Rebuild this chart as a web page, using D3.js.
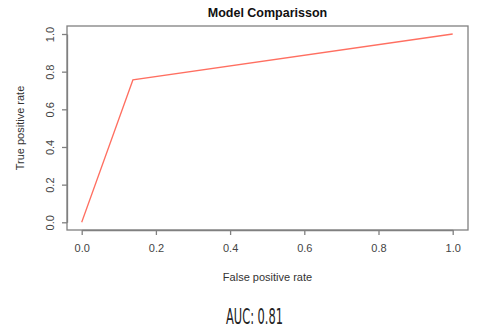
<!DOCTYPE html>
<html>
<head>
<meta charset="utf-8">
<script src="https://cdn.jsdelivr.net/npm/d3@7"></script>
<style>
  body { margin: 0; background: #fff; }
  svg { display: block; font-family: "Liberation Sans", Arial, sans-serif; }
</style>
</head>
<body>
<svg id="chart" width="477" height="331"></svg>
<script>
// ROC curve points
var fpr = [0, 0.138, 1];
var tpr = [0, 0.756, 1];
var tickValues = [0, 0.2, 0.4, 0.6, 0.8, 1.0];
var title = "Model Comparisson";
var aucLabel = "AUC: 0.81";

var svg = d3.select("#chart");

// plot box in pixels
var box = {left: 67, top: 26, right: 468, bottom: 230};

var x = d3.scaleLinear().domain([0, 1]).range([81.7, 452.7]);
var y = d3.scaleLinear().domain([0, 1]).range([222.3, 34]);

svg.append("rect")
    .attr("x", box.left).attr("y", box.top)
    .attr("width", box.right - box.left).attr("height", box.bottom - box.top)
    .attr("fill", "none").attr("stroke", "#808080").attr("stroke-width", 1.3);

var xAxis = svg.append("g")
    .attr("transform", "translate(0," + box.bottom + ")")
    .call(d3.axisBottom(x).tickValues(tickValues).tickFormat(d3.format(".1f")).tickSizeInner(5).tickSizeOuter(0).tickPadding(9));
xAxis.select(".domain").attr("stroke", "#808080").attr("stroke-width", 1.3);
xAxis.selectAll(".tick line").attr("stroke", "#808080").attr("stroke-width", 1.3);
xAxis.selectAll(".tick text").attr("fill", "#444").attr("font-size", 11);

var yAxis = svg.append("g")
    .attr("transform", "translate(" + box.left + ",0)")
    .call(d3.axisLeft(y).tickValues(tickValues).tickFormat(d3.format(".1f")).tickSizeInner(5).tickSizeOuter(0).tickPadding(0));
yAxis.select(".domain").attr("stroke", "#808080").attr("stroke-width", 1.3);
yAxis.selectAll(".tick line").attr("stroke", "#808080").attr("stroke-width", 1.3);
yAxis.selectAll(".tick text")
    .attr("fill", "#444").attr("font-size", 11)
    .attr("x", null).attr("dy", null)
    .attr("text-anchor", "middle")
    .attr("transform", "translate(-16,0) rotate(-90)")
    .attr("y", 0).attr("dominant-baseline", "middle");

svg.append("path")
    .datum(d3.zip(fpr, tpr))
    .attr("fill", "none")
    .attr("stroke", "#ff6f61")
    .attr("stroke-width", 1.3)
    .attr("d", d3.line().x(function(d) { return x(d[0]); }).y(function(d) { return y(d[1]); }));

svg.append("text")
    .attr("x", (box.left + box.right) / 2).attr("y", 17)
    .attr("text-anchor", "middle").attr("font-weight", "bold").attr("font-size", 12.5)
    .attr("fill", "#111").text(title);

svg.append("text")
    .attr("x", (box.left + box.right) / 2).attr("y", 281)
    .attr("text-anchor", "middle").attr("font-size", 11).attr("fill", "#333")
    .text("False positive rate");

svg.append("text")
    .attr("transform", "translate(24," + (box.top + box.bottom) / 2 + ") rotate(-90)")
    .attr("text-anchor", "middle").attr("font-size", 11).attr("fill", "#333")
    .text("True positive rate");

svg.append("text")
    .attr("x", 226).attr("y", 324)
    .attr("font-family", "'Liberation Sans Narrow', 'DejaVu Sans Condensed', sans-serif")
    .attr("font-size", 22).attr("fill", "#222")
    .attr("textLength", 57).attr("lengthAdjust", "spacingAndGlyphs")
    .text(aucLabel);
</script>
</body>
</html>
